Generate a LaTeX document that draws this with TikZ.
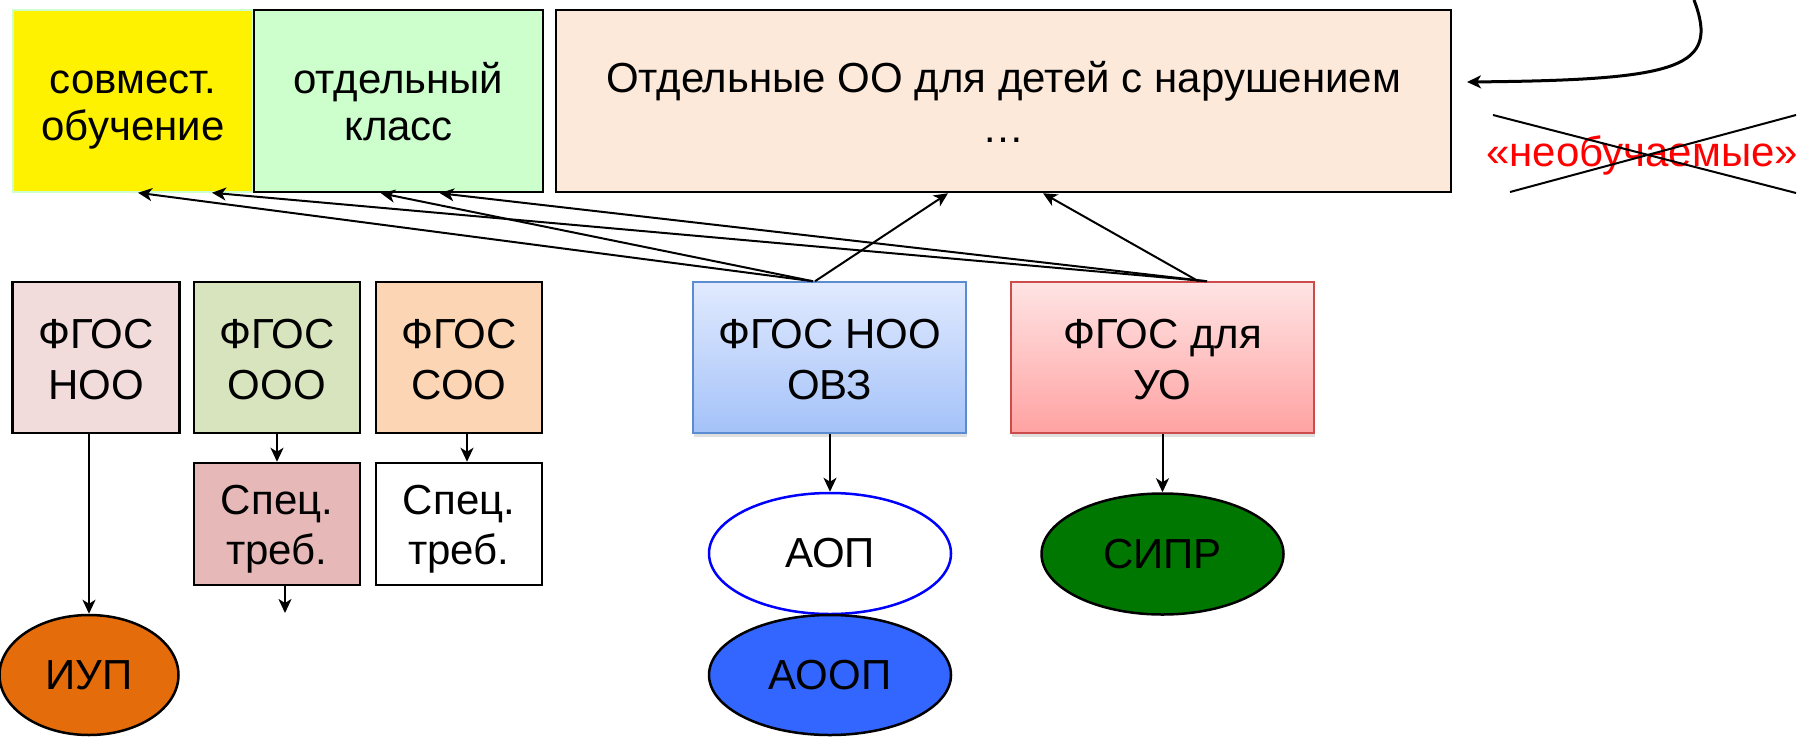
\documentclass[tikz,border=0pt]{standalone}
\usepackage{fontspec}
\setmainfont{Liberation Sans}
\usetikzlibrary{shapes.geometric,arrows.meta,shadows}

\definecolor{klassgreen}{HTML}{CCFFCC}
\definecolor{peach}{HTML}{FDE9D9}
\definecolor{noopink}{HTML}{F2DCDB}
\definecolor{ooogreen}{HTML}{D7E4BD}
\definecolor{sooorange}{HTML}{FCD5B5}
\definecolor{specrose}{HTML}{E6B9B8}
\definecolor{ovztop}{HTML}{E1EAFF}
\definecolor{ovzbot}{HTML}{A4C2F8}
\definecolor{ovzline}{HTML}{5B8BD0}
\definecolor{uotop}{HTML}{FFE4E4}
\definecolor{uobot}{HTML}{FFA2A2}
\definecolor{uoline}{HTML}{CC4B4B}
\definecolor{aoopblue}{HTML}{3366FF}
\definecolor{siprgreen}{HTML}{007700}
\definecolor{iuporange}{HTML}{E46C0A}

% two centred lines with Arial-like ascent and descent
\newcommand{\twolines}[2]{\rule{0pt}{40pt}#1\\#2\rule[-8pt]{0pt}{8pt}}

\tikzset{
  fbox/.style={draw, line width=2.5pt, inner sep=0pt, align=center},
  gbox/.style={fbox, line width=1.5pt, minimum width=#1, minimum height=151pt,
    drop shadow={opacity=0.25, shadow xshift=1pt, shadow yshift=-4pt}},
  oval/.style={ellipse, draw, line width=2.5pt, inner sep=0pt, minimum width=242pt, minimum height=121pt},
  link/.style={-{Stealth[length=14pt,width=13pt,inset=4pt]}, line width=2pt},
}

\begin{document}
\begin{tikzpicture}[x=1pt,y=-1pt,font=\fontsize{42}{51}\selectfont]
  \useasboundingbox (0,0) rectangle (1807,742);

  %Top row
  \node[fbox, draw=klassgreen, line width=1.5pt, fill=yellow, minimum width=240pt, minimum height=182pt,
    font=\fontsize{42}{47}\selectfont] (sovm) at (133,101) {\twolines{совмест.}{обучение}};
  \node[fbox, fill=klassgreen, minimum width=289pt, minimum height=182pt,
    font=\fontsize{42}{47}\selectfont] (klass) at (398.5,101) {\twolines{отдельный}{класс}};
  \node[fbox, fill=peach, minimum width=895pt, minimum height=182pt, font=\fontsize{42}{50}\selectfont]
    (otdoo) at (1003.5,101) {\twolines{Отдельные ОО для детей с нарушением}{…}};

  %Crossed out
  \node[text=red] (neobuch) at (1642,155) {«необучаемые»};
  \draw[line width=2pt] (1493,115) -- (1796,193);
  \draw[line width=2pt] (1510,192) -- (1796,115);

  \coordinate (fromtop) at (1694,0);
  \coordinate (oldend) at (1467,82);
  \draw[link, line width=3pt] (fromtop) .. controls (1720,68) and (1680,80) .. (oldend);

  %Standards
  \node[fbox, fill=noopink, minimum width=167pt, minimum height=151pt] (fnoo) at (96,357.5) {\twolines{ФГОС}{НОО}};
  \node[fbox, fill=ooogreen, minimum width=166pt, minimum height=151pt] (fooo) at (277,357.5) {\twolines{ФГОС}{ООО}};
  \node[fbox, fill=sooorange, minimum width=166pt, minimum height=151pt] (fsoo) at (459,357.5) {\twolines{ФГОС}{СОО}};
  \node[fbox, fill=specrose, minimum width=166pt, minimum height=122pt, font=\fontsize{42}{50}\selectfont]
    (spec1) at (277,524) {\twolines{Спец.}{треб.}};
  \node[fbox, fill=white, minimum width=166pt, minimum height=122pt, font=\fontsize{42}{50}\selectfont]
    (spec2) at (459,524) {\twolines{Спец.}{треб.}};

  \node[gbox=273pt, draw=ovzline, top color=ovztop, bottom color=ovzbot] (fovz) at (829.5,357.5) {\twolines{ФГОС НОО}{ОВЗ}};
  \node[gbox=303pt, draw=uoline, top color=uotop, bottom color=uobot] (fuo) at (1162.5,357.5) {\twolines{ФГОС для}{УО}};

  %Programs
  \node[oval, draw=blue, fill=white] (aop) at (830,553.5) {АОП};
  \node[oval, fill=aoopblue, minimum height=120pt] (aoop) at (830,675) {АООП};
  \node[oval, fill=siprgreen] (sipr) at (1162.5,554) {СИПР};
  \node[oval, fill=iuporange, minimum width=179pt, minimum height=120pt] (iup) at (89,675) {ИУП};

  %Links
  \draw[link] (fnoo.south -| iup.north) -- (iup.north);
  \draw[link] (fooo.south) -- (spec1.north);
  \draw[link] ([xshift=8pt]fsoo.south) -- ([xshift=8pt]spec2.north);
  \coordinate (specout) at (285,613);
  \draw[link] (spec1.south -| specout) -- (specout);
  \draw[link] (fovz.south -| aop.north) -- (aop.north);
  \draw[link] (fuo.south -| sipr.north) -- (sipr.north);

  \draw[link] ([xshift=-16.5pt]fovz.north) -- ([xshift=5pt]sovm.south);
  \draw[link] ([xshift=-16.5pt]fovz.north) -- ([xshift=-17.5pt]klass.south);
  \draw[link] ([xshift=-14.5pt]fovz.north) -- ([xshift=-55.5pt]otdoo.south);
  \draw[link] ([xshift=44.5pt]fuo.north) -- ([xshift=79pt]sovm.south);
  \draw[link] ([xshift=44.5pt]fuo.north) -- ([xshift=41.5pt]klass.south);
  \draw[link] ([xshift=36pt]fuo.north) -- ([xshift=39.5pt]otdoo.south);
\end{tikzpicture}
\end{document}
